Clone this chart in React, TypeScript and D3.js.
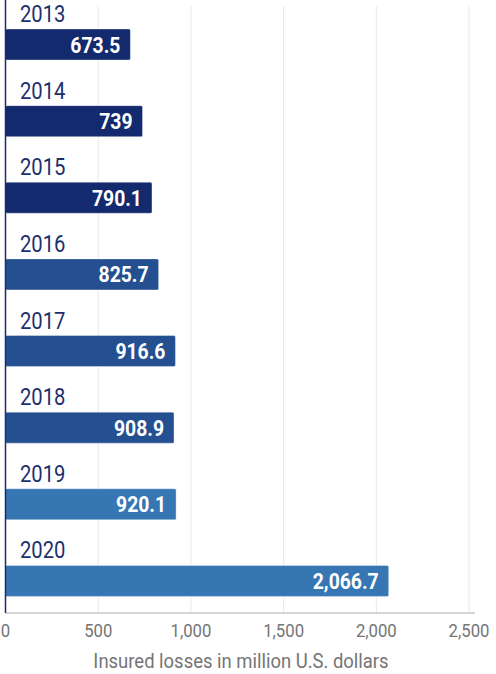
import React from "react";
import * as d3 from "d3";

const years = ["2013", "2014", "2015", "2016", "2017", "2018", "2019", "2020"];
const losses = [673.5, 739, 790.1, 825.7, 916.6, 908.9, 920.1, 2066.7];
const valueLabels = ["673.5", "739", "790.1", "825.7", "916.6", "908.9", "920.1", "2,066.7"];
const barColors = [
  "#142a6e", "#142a6e", "#142a6e",
  "#245091", "#245091", "#245091",
  "#3576b3", "#3576b3",
];
const xTicks = [0, 500, 1000, 1500, 2000, 2500];

const W = 496;
const H = 674;
const plotTop = 0;
const plotBottom = 613;
const plotLeft = 5.5;

const App: React.FC = () => {
  const x = d3.scaleLinear().domain([0, 2500]).range([plotLeft, 469]);
  const y = d3.scaleBand<string>().domain(years).range([plotTop, plotBottom]);
  const barOffset = 29;
  const barH = 31;
  const fmt = d3.format(",");

  return (
    <svg
      width={W}
      height={H}
      style={{ position: "absolute", left: 0, top: 0 }}
      fontFamily="Roboto, sans-serif"
    >
      <rect width={W} height={H} fill="#fff" />
      {/* gridlines */}
      {xTicks.slice(1).map((t) => (
        <line
          key={t}
          x1={x(t)}
          x2={x(t)}
          y1={6}
          y2={plotBottom}
          stroke="#e8e8e8"
          strokeWidth={1}
        />
      ))}
      {/* bars */}
      {years.map((yr, i) => {
        const top = (y(yr) ?? 0) + barOffset;
        return (
          <g key={yr}>
            <text
              transform={`translate(20,${(y(yr) ?? 0) + 22}) scale(0.88,1)`}
              fontSize={23}
              fill="#1f2f6e"
            >
              {yr}
            </text>
            <rect
              x={plotLeft}
              y={top}
              width={x(losses[i]) - plotLeft}
              height={barH}
              rx={1.5}
              fill={barColors[i]}
              stroke="rgba(255,255,255,0.35)"
              strokeWidth={1}
            />
            <text
              transform={`translate(${x(losses[i]) - 10},${top + barH / 2 + 8}) scale(0.88,1)`}
              textAnchor="end"
              fontSize={22}
              fontWeight={700}
              fill="#fff"
            >
              {valueLabels[i]}
            </text>
          </g>
        );
      })}
      {/* axes */}
      <line x1={plotLeft} x2={475} y1={plotBottom} y2={plotBottom} stroke="#c8c8c8" strokeWidth={1.5} />
      <line x1={plotLeft} x2={plotLeft} y1={0} y2={plotBottom} stroke="#1f2a6e" strokeWidth={1.5} />
      {xTicks.map((t) => (
        <text
          key={t}
          transform={`translate(${x(t)},${637}) scale(0.88,1)`}
          textAnchor="middle"
          fontSize={19}
          fill="#757575"
        >
          {fmt(t)}
        </text>
      ))}
      <text
        transform={`translate(241,668) scale(0.9,1)`}
        textAnchor="middle"
        fontSize={20.5}
        fill="#757575"
      >
        Insured losses in million U.S. dollars
      </text>
    </svg>
  );
};

export default App;
